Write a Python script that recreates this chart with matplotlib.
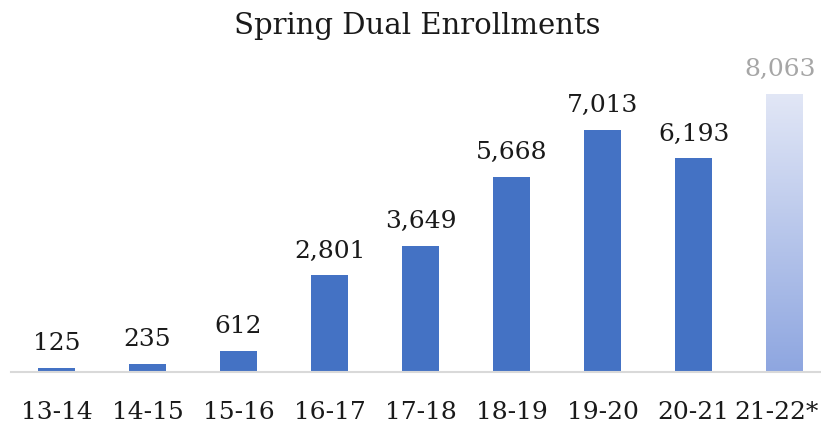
import matplotlib.pyplot as plt
import matplotlib.transforms as mtransforms
import numpy as np
from matplotlib.colors import LinearSegmentedColormap

years = ["13-14", "14-15", "15-16", "16-17", "17-18", "18-19", "19-20", "20-21", "21-22*"]
enrollments = [125, 235, 612, 2801, 3649, 5668, 7013, 6193, 8063]
projected = [False, False, False, False, False, False, False, False, True]

plt.rcParams['font.family'] = ['DejaVu Serif']

fig = plt.figure(figsize=(8.21, 4.27), dpi=100)
ax = fig.add_axes([11 / 821, 54 / 427, 810 / 821, 313 / 427])

x = np.arange(len(years))
bars = ax.bar(x, enrollments, width=0.4, color="#4472c4", zorder=2)

# 最後の棒（予測値）はグラデーション
grad = LinearSegmentedColormap.from_list("g", ["#8ea6e0", "#e2e7f6"])
for b, proj, val in zip(bars, projected, enrollments):
    if proj:
        b.set_facecolor("none")
        x0, w = b.get_x(), b.get_width()
        img = ax.imshow(np.linspace(0, 1, 256).reshape(-1, 1), cmap=grad,
                        extent=[x0, x0 + w, 0, val], origin="lower",
                        aspect="auto", zorder=2)
        img.set_clip_path(b)
    ax.annotate(f"{val:,}", (b.get_x() + b.get_width() / 2, val),
                xytext=(-3 if proj else 0, 10), textcoords="offset points",
                ha="center", va="bottom", fontsize=18,
                color="#a6a6a6" if proj else "#1a1a1a")

ax.set_xlim(-0.5, 8.4)
ax.set_ylim(0, 9078)
ax.set_xticks(x)
ax.set_xticklabels(years, fontsize=18, color="#1a1a1a")
ax.tick_params(axis="x", length=0, pad=20)
# 最後のラベルは少し左へ
last = ax.get_xticklabels()[-1]
last.set_transform(last.get_transform() +
                   mtransforms.ScaledTranslation(-6 / 72, 0, fig.dpi_scale_trans))
ax.set_yticks([])
for s in ["top", "right", "left"]:
    ax.spines[s].set_visible(False)
ax.spines["bottom"].set_color("#d9d9d9")
ax.spines["bottom"].set_linewidth(1.5)

fig.text(0.508, 0.94, "Spring Dual Enrollments", ha="center", va="center",
         fontsize=21, color="#1a1a1a")

fig.savefig("out.png", dpi=100)
